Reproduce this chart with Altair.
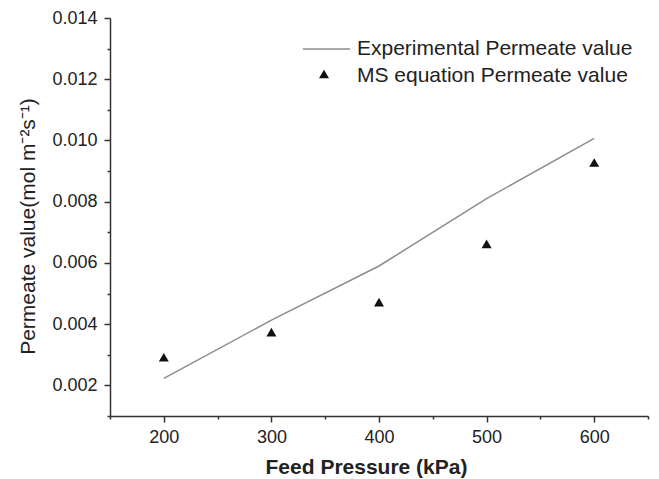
import altair as alt
import pandas as pd

# Data
pressure = [200, 300, 400, 500, 600]
experimental = [0.00223, 0.00413, 0.00590, 0.00810, 0.01007]
ms_equation = [0.00292, 0.00374, 0.00472, 0.00662, 0.00928]

legend_labels = ["Experimental Permeate value", "MS equation Permeate value"]
x_title = "Feed Pressure (kPa)"
y_title = "Permeate value(mol m\u207b\u00b2s\u207b\u00b9)"

x_ticks = [150, 200, 250, 300, 350, 400, 450, 500, 550, 600, 650]
y_ticks = [0.001, 0.002, 0.003, 0.004, 0.005, 0.006, 0.007, 0.008, 0.009,
           0.010, 0.011, 0.012, 0.013, 0.014]

df_line = pd.DataFrame({"p": pressure, "v": experimental})
df_pts = pd.DataFrame({"p": pressure, "v": ms_equation})

FONT = "Arial, Liberation Sans, sans-serif"
AXIS_COLOR = "#333333"
LINE_COLOR = "#8c8c8c"
TEXT_COLOR = "#222222"

x_enc = alt.X(
    "p:Q",
    scale=alt.Scale(domain=[150, 650], nice=False, zero=False),
    axis=alt.Axis(
        values=x_ticks,
        title=x_title,
        labelExpr="datum.value % 100 == 0 ? datum.label : ''",
        tickSize={"condition": {"test": "datum.value % 100 == 0", "value": 6}, "value": 3},
        labelPadding=6,
        labelFontSize=18,
        titleFontSize=21,
        titleFontWeight="bold",
        titleX=256,
        titleY=51,
        titleBaseline="middle",
        titleAlign="center",
    ),
)
y_enc = alt.Y(
    "v:Q",
    scale=alt.Scale(domain=[0.001, 0.014], nice=False, zero=False),
    axis=alt.Axis(
        values=y_ticks,
        title=y_title,
        format=".3f",
        labelExpr="round(datum.value * 1000) % 2 == 0 ? datum.label : ''",
        tickSize={"condition": {"test": "round(datum.value * 1000) % 2 == 0", "value": 6}, "value": 3},
        labelPadding=7,
        labelFontSize=18,
        titleFontSize=21,
        titleFontWeight="normal",
        titleX=-82,
        titleY=208,
        titleAngle=270,
        titleAlign="center",
        titleBaseline="middle",
    ),
)

line = alt.Chart(df_line).mark_line(color=LINE_COLOR, strokeWidth=1.5).encode(x=x_enc, y=y_enc)
pts = alt.Chart(df_pts).mark_point(
    shape="triangle-up", filled=True, color="#111111", size=100, opacity=1
).encode(x=x_enc, y=y_enc)

# Manual legend
leg_line = alt.Chart(pd.DataFrame({"a": [0]})).mark_rule(
    color=LINE_COLOR, strokeWidth=1.5
).encode(x=alt.value(193), x2=alt.value(240), y=alt.value(31))
leg_tri = alt.Chart(pd.DataFrame({"a": [0]})).mark_point(
    shape="triangle-up", filled=True, color="#111111", size=100, opacity=1
).encode(x=alt.value(214), y=alt.value(56))
leg_text1 = alt.Chart(pd.DataFrame({"t": [legend_labels[0]]})).mark_text(
    align="left", baseline="middle", fontSize=21, font=FONT, color=TEXT_COLOR
).encode(x=alt.value(247), y=alt.value(31), text="t:N")
leg_text2 = alt.Chart(pd.DataFrame({"t": [legend_labels[1]]})).mark_text(
    align="left", baseline="middle", fontSize=21, font=FONT, color=TEXT_COLOR
).encode(x=alt.value(247), y=alt.value(58), text="t:N")

chart = alt.layer(line, pts, leg_line, leg_tri, leg_text1, leg_text2).properties(
    width=538,
    height=398,
    autosize=alt.AutoSizeParams(type="none"),
    padding={"left": 110, "top": 18, "right": 11, "bottom": 63},
    background="white",
).configure_view(stroke=None).configure_axis(
    grid=False,
    domainColor=AXIS_COLOR,
    domainWidth=1.5,
    tickColor=AXIS_COLOR,
    tickWidth=1.5,
    labelColor=TEXT_COLOR,
    titleColor=TEXT_COLOR,
    labelFont=FONT,
    titleFont=FONT,
)

chart.save("out.html", embed_options={"renderer": "svg", "actions": False})
